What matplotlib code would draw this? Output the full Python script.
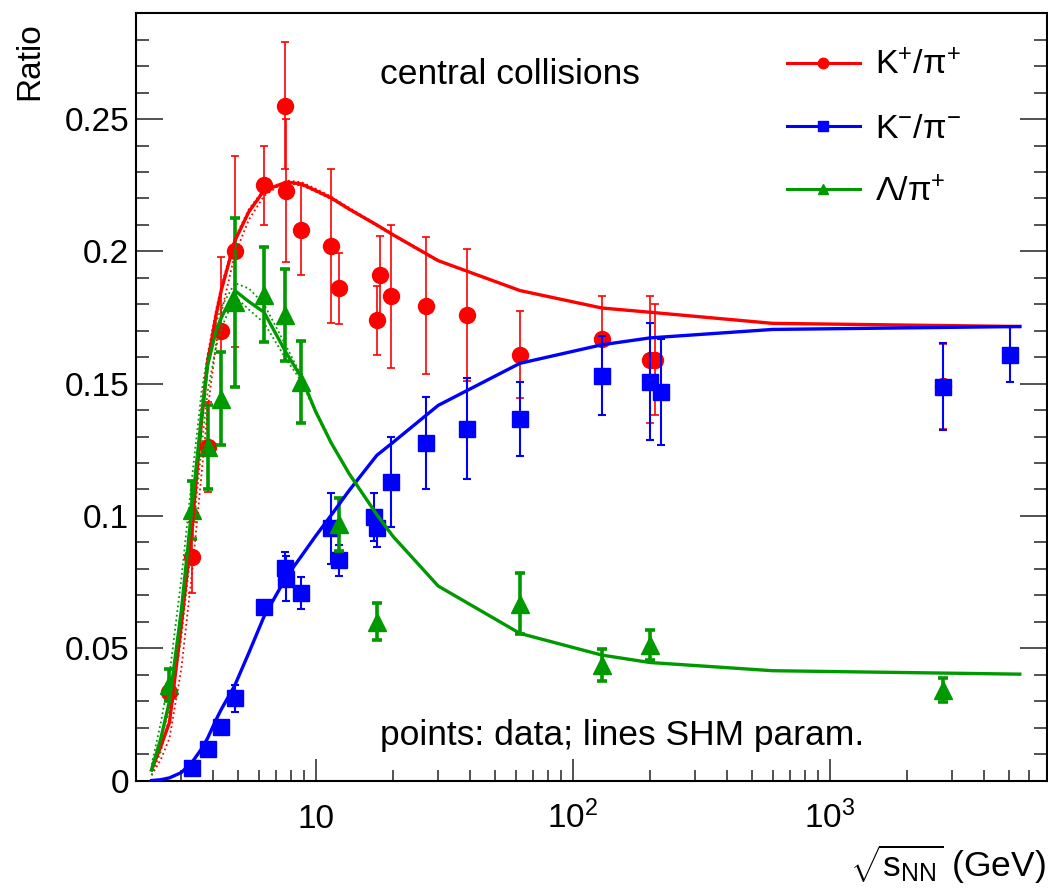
import matplotlib
matplotlib.use("Agg")
import matplotlib.pyplot as plt
from matplotlib.ticker import FixedLocator, LogLocator, MultipleLocator, NullFormatter
from matplotlib.lines import Line2D

plt.rcParams["font.family"] = ["Liberation Sans", "DejaVu Sans"]
plt.rcParams["mathtext.fontset"] = "custom"
plt.rcParams["mathtext.rm"] = "Liberation Sans"
plt.rcParams["mathtext.it"] = "Liberation Sans:italic"
plt.rcParams["mathtext.bf"] = "Liberation Sans:bold"

RED = "#ff0000"
BLUE = "#0000ff"
GREEN = "#009900"

# ---------------- data points ----------------
kp_sqrts = [2.7, 3.3, 3.8, 4.3, 4.85, 6.3, 7.6, 7.7, 8.8, 11.5, 12.3, 17.3, 17.8,
            19.6, 27, 39, 62.4, 130, 200, 210, 2760]
kp_ratio = [0.0334, 0.0844, 0.126, 0.170, 0.200, 0.225, 0.255, 0.223, 0.208, 0.202,
            0.186, 0.174, 0.191, 0.183, 0.1795, 0.176, 0.161, 0.167, 0.159, 0.159, 0.149]
kp_err = [0.003, 0.0135, 0.017, 0.028, 0.036, 0.015, 0.024, 0.027, 0.017, 0.029,
          0.0135, 0.013, 0.015, 0.027, 0.026, 0.025, 0.0165, 0.016, 0.024, 0.021, 0.016]

km_sqrts = [3.3, 3.8, 4.3, 4.85, 6.3, 7.6, 7.7, 8.8, 11.5, 12.3, 16.8, 17.3, 19.6,
            27, 39, 62.4, 130, 200, 220, 2760, 5020]
km_ratio = [0.0046, 0.0119, 0.0203, 0.031, 0.0656, 0.0803, 0.0763, 0.0709, 0.0954,
            0.0832, 0.0996, 0.0954, 0.1128, 0.1275, 0.133, 0.1367, 0.153, 0.1508,
            0.147, 0.1488, 0.161]
km_err = [0.001, 0.0015, 0.002, 0.005, 0.002, 0.006, 0.0085, 0.006, 0.0134, 0.006,
          0.009, 0.007, 0.017, 0.0175, 0.019, 0.014, 0.015, 0.022, 0.020, 0.0164, 0.0105]

lam_sqrts = [2.7, 3.3, 3.8, 4.3, 4.85, 6.3, 7.6, 8.8, 12.3, 17.3, 62.4, 130, 200, 2760]
lam_ratio = [0.036, 0.1021, 0.126, 0.1443, 0.1808, 0.1836, 0.176, 0.1506, 0.0968,
             0.060, 0.0669, 0.0436, 0.0512, 0.0342]
lam_err = [0.006, 0.011, 0.016, 0.0175, 0.032, 0.018, 0.0175, 0.0155, 0.010, 0.007,
           0.0115, 0.006, 0.0055, 0.0045]

# ---------------- SHM parametrisation ----------------
shm_sqrts = [2.3, 2.5, 2.7, 3.0, 3.3, 3.6, 3.8, 4.1, 4.3, 4.85, 5.5, 6.3, 7.7, 8.8,
             10, 11.5, 13.5, 17.3, 20, 30, 62.4, 130, 200, 600, 5500]
shm_kp = [0.004, 0.013, 0.022, 0.0585, 0.095, 0.136, 0.158, 0.176, 0.1855, 0.204,
          0.215, 0.223, 0.2262, 0.2255, 0.223, 0.2202, 0.216, 0.210, 0.2063, 0.1965,
          0.1852, 0.1786, 0.177, 0.1728, 0.1716]
shm_km = [0.0, 0.0003, 0.001, 0.003, 0.0068, 0.012, 0.016, 0.023, 0.027, 0.036,
          0.0483, 0.062, 0.077, 0.0848, 0.0924, 0.1003, 0.1096, 0.1229, 0.1278, 0.1418,
          0.1577, 0.1647, 0.1673, 0.1705, 0.1716]
shm_lam = [0.004, 0.016, 0.030, 0.064, 0.103, 0.138, 0.157, 0.170, 0.175, 0.1852,
           0.181, 0.177, 0.1615, 0.1524, 0.1395, 0.1276, 0.116, 0.1005, 0.0923, 0.0735,
           0.0556, 0.0474, 0.0446, 0.0415, 0.0402]

# dotted variants (only differ at low energy)
dot_sqrts = [2.3, 2.5, 2.7, 3.0, 3.3, 3.6, 3.8, 4.1, 4.3, 4.85, 5.5, 6.3, 7.7, 8.8,
             10, 11.5, 13.5, 17.3, 20, 30]
kp_dot_a = [0.002, 0.008, 0.016, 0.042, 0.078, 0.116, 0.140, 0.165, 0.177, 0.199,
            0.212, 0.221, 0.2268, 0.2262, 0.2237, 0.2207, 0.2165, 0.2102, 0.2065, 0.1967]
kp_dot_b = [0.005, 0.016, 0.027, 0.062, 0.100, 0.142, 0.161, 0.178, 0.187, 0.205,
            0.216, 0.2235, 0.2258, 0.2250, 0.2226, 0.2198, 0.2157, 0.2097, 0.2060, 0.1962]
lam_dot_a = [0.006, 0.022, 0.040, 0.076, 0.114, 0.147, 0.161, 0.173, 0.179, 0.188,
             0.186, 0.180, 0.164, 0.153, 0.140, 0.1278, 0.1162, 0.1007, 0.0925, 0.0736]
lam_dot_b = [0.002, 0.011, 0.024, 0.054, 0.090, 0.126, 0.147, 0.164, 0.171, 0.183,
             0.178, 0.173, 0.159, 0.151, 0.139, 0.1274, 0.1158, 0.1003, 0.0921, 0.0734]

fig = plt.figure(figsize=(10.48, 8.88), dpi=100)
ax = fig.add_axes([136 / 1048, 1 - 780.5 / 888, 910.7 / 1048, 767.2 / 888])

# data
ax.errorbar(kp_sqrts, kp_ratio, yerr=kp_err, fmt="o", color=RED, ms=11.5,
            elinewidth=1.2, capsize=3, capthick=1.2, zorder=3)
ax.errorbar(km_sqrts, km_ratio, yerr=km_err, fmt="s", color=BLUE, ms=11,
            elinewidth=1.5, capsize=3, capthick=1.5, zorder=4)
ax.errorbar(lam_sqrts, lam_ratio, yerr=lam_err, fmt="^", color=GREEN, ms=12.5,
            elinewidth=2.6, capsize=3.5, capthick=2.6, zorder=5)

# model lines
dot = (0, (1, 1.6))
ax.plot(dot_sqrts, kp_dot_a, color=RED, lw=1.3, ls=dot, zorder=6)
ax.plot(dot_sqrts, kp_dot_b, color=RED, lw=1.3, ls=dot, zorder=6)
ax.plot(dot_sqrts, lam_dot_a, color=GREEN, lw=1.3, ls=dot, zorder=6)
ax.plot(dot_sqrts, lam_dot_b, color=GREEN, lw=1.3, ls=dot, zorder=6)
ax.plot(shm_sqrts, shm_kp, color=RED, lw=2.4, zorder=7)
ax.plot(shm_sqrts, shm_km, color=BLUE, lw=2.4, zorder=7)
ax.plot(shm_sqrts, shm_lam, color=GREEN, lw=2.4, zorder=7)

ax.set_xscale("log")
ax.set_xlim(2.0, 7000)
ax.set_ylim(0, 0.29)

ax.xaxis.set_major_locator(FixedLocator([10, 100, 1000]))
ax.set_xticklabels(["10", "$10^{2}$", "$10^{3}$"])
ax.xaxis.set_minor_locator(LogLocator(base=10, subs=[2, 3, 4, 5, 6, 7, 8, 9], numticks=20))
ax.xaxis.set_minor_formatter(NullFormatter())
ax.yaxis.set_minor_locator(MultipleLocator(0.01))
ax.set_yticks([0, 0.05, 0.1, 0.15, 0.2, 0.25])
ax.set_yticklabels(["0", "0.05", "0.1", "0.15", "0.2", "0.25"])

ax.tick_params(axis="both", which="both", direction="in", labelsize=24, width=1.1,
               color="#222222")
ax.tick_params(axis="y", which="both", left=True, right=True)
ax.tick_params(axis="y", which="major", length=19.5, pad=5)
ax.tick_params(axis="y", which="minor", length=9.5)
ax.tick_params(axis="x", which="both", top=False)
ax.tick_params(axis="x", which="major", length=16, pad=34)
ax.tick_params(axis="x", which="minor", length=8)
for lbl in ax.get_xticklabels():
    lbl.set_verticalalignment("baseline")
for sp in ax.spines.values():
    sp.set_linewidth(1.5)

fig.text(30 / 1048, 1 - 22 / 888, "Ratio", rotation=90, ha="center", va="top", fontsize=24)
fig.text(1046 / 1048, 1 - 864 / 888, r"$\sqrt{\mathrm{s}_{\mathrm{NN}}}$ (GeV)",
         ha="right", va="center", fontsize=25.5)

ax.text(0.268, 0.9196, "central collisions", transform=ax.transAxes,
        ha="left", va="center", fontsize=25.5)
ax.text(0.268, 0.0593, "points: data; lines SHM param.", transform=ax.transAxes,
        ha="left", va="center", fontsize=25.5)

handles = [
    Line2D([], [], color=RED, lw=2.2, marker="o", ms=7.5),
    Line2D([], [], color=BLUE, lw=2.2, marker="s", ms=7.5),
    Line2D([], [], color=GREEN, lw=2.2, marker="^", ms=7.5),
]
labels = [r"K$^{+}$/π$^{+}$", r"K$^{-}$/π$^{-}$", r"Λ/π$^{+}$"]
ax.legend(handles, labels, loc="upper left", bbox_to_anchor=(0.7145, 0.952),
          frameon=False, fontsize=24.5, handlelength=2.15, handletextpad=0.45,
          borderpad=0, borderaxespad=0, labelspacing=0.95)

fig.savefig("out.png", dpi=100)
